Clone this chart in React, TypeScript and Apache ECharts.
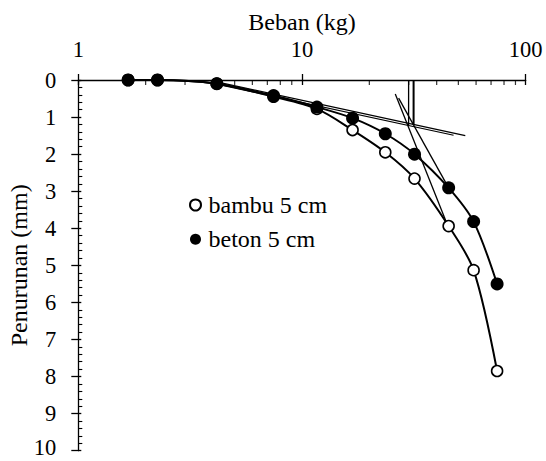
import React, { useEffect, useRef } from "react";
import * as echarts from "echarts";

// Beban (kg) for each measurement step
const loadKg = [1.67, 2.26, 4.16, 7.46, 11.66, 16.83, 23.57, 31.84, 45.24, 58.5, 74.5];
// Penurunan (mm)
const bambuMm = [0.0, 0.0, 0.1, 0.45, 0.78, 1.35, 1.95, 2.66, 3.94, 5.13, 7.85];
const betonMm = [0.0, 0.0, 0.1, 0.42, 0.73, 1.03, 1.45, 2.0, 2.91, 3.82, 5.5];

// tangent construction lines [x, y] endpoints
const betonTangentInit = [[4.16, 0.05], [53.7, 1.5]];
const bambuTangentInit = [[4.16, 0.11], [47.6, 1.49]];
const betonTangentSteep = [[27.03, 0.49], [45.24, 2.91]];
const bambuTangentSteep = [[26.12, 0.38], [44.87, 3.94]];
const betonUltimate = [[31.54, 0], [31.54, 1.2]];
const bambuUltimate = [[29.96, 0], [29.96, 1.23]];

const xMinorTicks = [2, 3, 4, 5, 6, 7, 8, 9, 20, 30, 40, 50, 60, 70, 80, 90];

const FONT = "Liberation Serif";

export default function App() {
  const ref = useRef<HTMLDivElement>(null);
  useEffect(() => {
    const chart = echarts.init(ref.current!, null, { renderer: "svg" });
    const pairs = (ys: number[]) => loadKg.map((x, i) => [x, ys[i]]);
    const thin = (name: string, data: number[][], w = 1.2) => ({
      type: "line",
      name,
      data,
      symbol: "none",
      silent: true,
      lineStyle: { color: "#000", width: w },
      z: 1,
    });
    const bigText = { fontFamily: FONT, fontSize: 24, color: "#000", lineHeight: 26 };
    const tickText = { fontFamily: FONT, fontSize: 22.5, color: "#000" };
    chart.setOption({
      animation: false,
      backgroundColor: "#fff",
      textStyle: { fontFamily: FONT },
      grid: {
        left: 78.3,
        top: 80,
        right: 20.3,
        bottom: 10.3,
        containLabel: false,
        outerBoundsMode: "none",
      },
      legend: {
        orient: "vertical",
        left: 189,
        top: 193,
        itemWidth: 16,
        itemHeight: 11,
        itemGap: 10.3,
        padding: 0,
        data: [
          { name: "bambu 5 cm", icon: "circle" },
          { name: "beton 5 cm", icon: "circle" },
        ],
        textStyle: { fontFamily: FONT, fontSize: 24, color: "#000", lineHeight: 24 },
      },
      xAxis: [
        {
          type: "log",
          logBase: 10,
          min: 1,
          max: 100,
          position: "top",
          name: "Beban (kg)",
          nameLocation: "middle",
          nameGap: 45,
          nameMoveOverlap: false,
          nameTextStyle: bigText,
          axisLine: { show: true, lineStyle: { color: "#000", width: 1.3 } },
          axisTick: { show: true, length: 6, lineStyle: { color: "#000", width: 1.3 } },
          axisLabel: { ...tickText, lineHeight: 24, margin: 19 },
          splitLine: { show: false },
        },
        {
          type: "log",
          logBase: 10,
          min: 1,
          max: 100,
          position: "top",
          axisLine: { show: false },
          axisTick: { show: true, inside: true, length: 5, lineStyle: { color: "#000", width: 1.3 } },
          axisLabel: { show: false },
          splitLine: { show: false },
        },
      ],
      yAxis: [
        {
          type: "value",
          inverse: true,
          min: 0,
          max: 10,
          interval: 1,
          position: "left",
          name: "Penurunan (mm)",
          nameLocation: "middle",
          nameGap: 46,
          nameMoveOverlap: false,
          nameTextStyle: bigText,
          axisLine: { show: true, lineStyle: { color: "#000", width: 1.3 } },
          axisTick: { show: true, inside: true, length: 3, lineStyle: { color: "#000", width: 1.3 } },
          minorTick: { show: true, splitNumber: 5, length: 4, lineStyle: { color: "#000", width: 1.1 } },
          axisLabel: {
            ...tickText,
            lineHeight: 16,
            margin: 22,
            formatter: (v: number) => (v === 10 ? "{last|10}" : String(v)),
            rich: {
              last: { ...tickText, lineHeight: 16, padding: [0, 0, 6, 0] },
            },
          },
          splitLine: { show: false },
          minorSplitLine: { show: false },
        },
        {
          type: "value",
          inverse: true,
          min: 0,
          max: 10,
          interval: 1,
          position: "left",
          offset: 0,
          axisLine: { show: false },
          axisTick: { show: true, length: 7, lineStyle: { color: "#000", width: 1.3 } },
          axisLabel: { show: false },
          splitLine: { show: false },
        },
      ],
      series: [
        thin("tangent-beton-a", betonTangentInit),
        thin("tangent-bambu-a", bambuTangentInit),
        thin("tangent-beton-b", betonTangentSteep, 1.3),
        thin("tangent-bambu-b", bambuTangentSteep, 1.3),
        thin("ult-beton", betonUltimate, 2),
        thin("ult-bambu", bambuUltimate, 1.3),
        {
          type: "scatter",
          name: "minor-x",
          data: xMinorTicks.map((x) => [x, 0]),
          symbol: "rect",
          symbolSize: [1.2, 5],
          symbolOffset: [0, 2.5],
          itemStyle: { color: "#000" },
          silent: true,
          clip: false,
          z: 3,
        },
        {
          type: "line",
          name: "bambu 5 cm",
          data: pairs(bambuMm),
          smooth: 0.3,
          symbol: "circle",
          symbolSize: 11,
          showAllSymbol: true,
          itemStyle: { color: "#fff", borderColor: "#000", borderWidth: 1.6 },
          lineStyle: { color: "#000", width: 2 },
          z: 4,
        },
        {
          type: "line",
          name: "beton 5 cm",
          data: pairs(betonMm),
          smooth: 0.3,
          symbol: "circle",
          symbolSize: 13,
          showAllSymbol: true,
          itemStyle: { color: "#000", borderColor: "#000", borderWidth: 0 },
          lineStyle: { color: "#000", width: 2 },
          z: 5,
        },
      ],
    });
    return () => chart.dispose();
  }, []);
  return (
    <div
      ref={ref}
      style={{ position: "fixed", left: 0, top: 0, width: 546, height: 461 }}
    />
  );
}
